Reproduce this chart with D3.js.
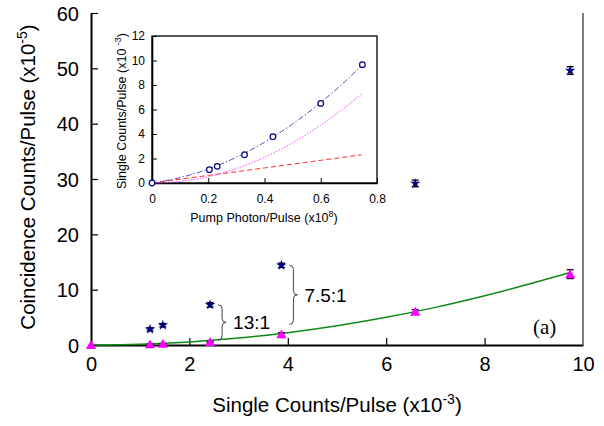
<!DOCTYPE html>
<html lang="en">
<head>
<meta charset="utf-8" />
<script src="https://d3js.org/d3.v7.min.js"></script>
<style>
  body { margin: 0; background: #fff; }
  svg text { font-family: "Liberation Sans", Arial, sans-serif; fill: #000; }
</style>
</head>
<body>
<div id="chart"></div>
<script>
// main plot: coincidence vs single counts
var xTicks = [0, 2, 4, 6, 8, 10];
var yTicks = [0, 10, 20, 30, 40, 50, 60];

var starX = [1.2, 1.46, 2.42, 3.87, 6.59, 9.74];
var starY = [2.85, 3.58, 7.27, 14.4, 29.2, 49.6];
var starErr = [0.3, 0.3, 0.4, 0.4, 0.6, 0.7];

var triX = [0, 1.2, 1.46, 2.42, 3.87, 6.59, 9.74];
var triY = [0, 0.12, 0.2, 0.56, 1.92, 6.0, 12.8];
var triErr = [0, 0.05, 0.05, 0.1, 0.3, 0.4, 0.8];

var fitX = [0, 1, 2, 3, 4, 5, 6, 7, 8, 9, 9.74];
var fitY = [0, 0.14, 0.56, 1.25, 2.22, 3.47, 5.0, 6.8, 8.9, 11.25, 13.1];

// inset: single counts vs pump photons
var inXTicks = [0, 0.2, 0.4, 0.6, 0.8];
var inYTicks = [0, 2, 4, 6, 8, 10, 12];
var inPtsX = [0, 0.204, 0.232, 0.329, 0.43, 0.6, 0.748];
var inPtsY = [0, 1.09, 1.36, 2.31, 3.78, 6.5, 9.66];
var inCurveX = [0, 0.1, 0.2, 0.3, 0.4, 0.5, 0.6, 0.7, 0.745];
var inTotal = [0, 0.44, 1.14, 2.1, 3.33, 4.82, 6.57, 8.58, 9.6];
var inQuad = [0, 0.13, 0.52, 1.18, 2.1, 3.28, 4.72, 6.42, 7.27];
var inLin = [0, 0.31, 0.62, 0.92, 1.23, 1.54, 1.85, 2.16, 2.3];

var width = 604, height = 426;
var svg = d3.select("#chart").append("svg")
  .attr("width", width).attr("height", height);

var x = d3.scaleLinear().domain([0, 10]).range([91, 583]);
var y = d3.scaleLinear().domain([0, 60]).range([345, 13]);

// axes, ticks inside
var xAxis = svg.append("g").attr("transform", "translate(0,345)")
  .call(d3.axisBottom(x).tickValues(xTicks).tickSizeInner(-7).tickSizeOuter(0).tickPadding(12));
var yAxis = svg.append("g").attr("transform", "translate(91,0)")
  .call(d3.axisLeft(y).tickValues(yTicks).tickSizeInner(-7).tickSizeOuter(0).tickPadding(12));
[xAxis, yAxis].forEach(function (a) {
  a.select(".domain").attr("stroke", "#000").attr("stroke-width", 2);
  a.selectAll(".tick line").attr("stroke", "#000").attr("stroke-width", 1.2);
  a.selectAll(".tick text").style("font-size", "20px").attr("font-family", null);
});
xAxis.selectAll(".tick line").filter(function (d) { return d === 0 || d === 10; }).remove();
yAxis.selectAll(".tick text").attr("dy", "0.36em");
svg.append("line").attr("x1", 583).attr("x2", 583).attr("y1", y(60)).attr("y2", 345)
  .attr("stroke", "#555").attr("stroke-width", 1.5);

// axis titles
svg.append("text").attr("x", 337).attr("y", 412).attr("text-anchor", "middle")
  .style("font-size", "20.5px")
  .call(function (t) {
    t.append("tspan").text("Single Counts/Pulse (x10");
    t.append("tspan").attr("dy", -8).style("font-size", "14px").text("-3");
    t.append("tspan").attr("dy", 8).text(")");
  });
svg.append("text").attr("transform", "translate(35,177) rotate(-90)").attr("text-anchor", "middle")
  .style("font-size", "20.5px")
  .call(function (t) {
    t.append("tspan").text("Coincidence Counts/Pulse (x10");
    t.append("tspan").attr("dy", -8).style("font-size", "14px").text("-5");
    t.append("tspan").attr("dy", 8).text(")");
  });

// fit curve
svg.append("path")
  .datum(fitX.map(function (d, i) { return [d, fitY[i]]; }))
  .attr("fill", "none").attr("stroke", "#11881a").attr("stroke-width", 1.5)
  .attr("d", d3.line().curve(d3.curveMonotoneX).x(function (d) { return x(d[0]); }).y(function (d) { return y(d[1]); }));

function errBars(xs, ys, es) {
  var g = svg.append("g").attr("stroke", "#000").attr("stroke-width", 1.3);
  xs.forEach(function (xv, i) {
    if (!es[i]) return;
    var px = x(xv), top = y(ys[i] + es[i]), bot = y(ys[i] - es[i]);
    g.append("line").attr("x1", px).attr("x2", px).attr("y1", top).attr("y2", bot);
    g.append("line").attr("x1", px - 3.5).attr("x2", px + 3.5).attr("y1", top).attr("y2", top);
    g.append("line").attr("x1", px - 3.5).attr("x2", px + 3.5).attr("y1", bot).attr("y2", bot);
  });
}
errBars(starX, starY, starErr);
errBars(triX, triY, triErr);

svg.append("g").selectAll("path").data(starX).join("path")
  .attr("transform", function (d, i) { return "translate(" + x(d) + "," + y(starY[i]) + ")"; })
  .attr("d", d3.symbol().type(d3.symbolStar).size(34))
  .attr("fill", "#000080");

svg.append("g").selectAll("path").data(triX).join("path")
  .attr("transform", function (d, i) { return "translate(" + x(d) + "," + (y(triY[i]) + 1) + ")"; })
  .attr("d", d3.symbol().type(d3.symbolTriangle).size(46))
  .attr("fill", "#ff00ff");

// braces with ratio labels
function brace(px, y0, y1) {
  var t = (y0 + y1) / 2, w = 4;
  var p = "M" + px + "," + y0 +
    " q" + w + ",0 " + w + "," + 4 +
    " L" + (px + w) + "," + (t - 4) +
    " q0,4 " + w + ",4" +
    " q-" + w + ",0 -" + w + ",4" +
    " L" + (px + w) + "," + (y1 - 4) +
    " q0,4 -" + w + ",4";
  svg.append("path").attr("d", p).attr("fill", "none").attr("stroke", "#444").attr("stroke-width", 1);
  return t;
}
var t1 = brace(x(2.42) + 8, y(starY[2]), y(triY[3]) - 2);
svg.append("text").attr("x", x(2.42) + 23).attr("y", t1 + 7).style("font-size", "19px").text("13:1");
var t2 = brace(x(3.87) + 8, y(starY[3]), y(triY[4]) - 10);
svg.append("text").attr("x", x(3.87) + 23).attr("y", t2 + 7).style("font-size", "19px").text("7.5:1");

svg.append("text").attr("x", 533).attr("y", 334)
  .style("font-family", "'Liberation Serif', 'Times New Roman', serif").style("font-size", "21px").text("(a)");

// inset
var ix = d3.scaleLinear().domain([0, 0.8]).range([152, 377]);
var iy = d3.scaleLinear().domain([0, 12]).range([183, 36]);

svg.append("rect").attr("x", 152).attr("y", 36).attr("width", 225).attr("height", 147)
  .attr("fill", "#fff").attr("stroke", "#000").attr("stroke-width", 1.3);

var ixAxis = svg.append("g").attr("transform", "translate(0,183)")
  .call(d3.axisBottom(ix).tickValues(inXTicks).tickFormat(d3.format("")).tickSizeInner(-5).tickSizeOuter(0).tickPadding(11));
var iyAxis = svg.append("g").attr("transform", "translate(152,0)")
  .call(d3.axisLeft(iy).tickValues(inYTicks).tickSizeInner(-5).tickSizeOuter(0).tickPadding(7));
[ixAxis, iyAxis].forEach(function (a) {
  a.select(".domain").attr("stroke", "#000").attr("stroke-width", 1.6);
  a.selectAll(".tick line").attr("stroke", "#000");
  a.selectAll(".tick text").style("font-size", "12px").attr("font-family", null);
});

svg.append("text").attr("x", 264).attr("y", 222).attr("text-anchor", "middle").style("font-size", "12.5px")
  .call(function (t) {
    t.append("tspan").text("Pump Photon/Pulse (x10");
    t.append("tspan").attr("dy", -5).style("font-size", "9px").text("8");
    t.append("tspan").attr("dy", 5).text(")");
  });
svg.append("text").attr("transform", "translate(126,111) rotate(-90)").attr("text-anchor", "middle").style("font-size", "12.5px")
  .call(function (t) {
    t.append("tspan").text("Single Counts/Pulse (x10 ");
    t.append("tspan").attr("dy", -5).style("font-size", "9px").text("-3");
    t.append("tspan").attr("dy", 5).text(")");
  });

var iline = d3.line().curve(d3.curveMonotoneX)
  .x(function (d) { return ix(d[0]); }).y(function (d) { return iy(d[1]); });
function icurve(vals, color, dash) {
  svg.append("path").datum(inCurveX.map(function (d, i) { return [d, vals[i]]; }))
    .attr("fill", "none").attr("stroke", color).attr("stroke-width", 1)
    .attr("stroke-dasharray", dash).attr("d", iline);
}
icurve(inLin, "#ff2a2a", "5,3");
icurve(inQuad, "#ff44ff", "1.5,1.5");
icurve(inTotal, "#5555bb", "6,2,1.5,2");

svg.append("g").selectAll("circle").data(inPtsX).join("circle")
  .attr("cx", function (d) { return ix(d); })
  .attr("cy", function (d, i) { return iy(inPtsY[i]); })
  .attr("r", 2.8).attr("fill", "#fff").attr("stroke", "#000080").attr("stroke-width", 1.2);
</script>
</body>
</html>
